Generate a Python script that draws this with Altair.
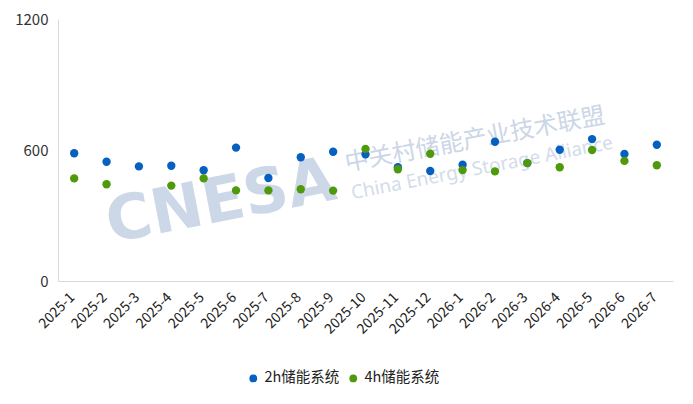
import altair as alt
import pandas as pd

months = ["2025-1", "2025-2", "2025-3", "2025-4", "2025-5", "2025-6", "2025-7",
          "2025-8", "2025-9", "2025-10", "2025-11", "2025-12", "2026-1", "2026-2",
          "2026-3", "2026-4", "2026-5", "2026-6", "2026-7"]
series_2h = [585, 546, 525, 528, 507, 611, 472, 567, 592, 580, 521, 504, 533, 638,
             540, 601, 650, 582, 624]
series_4h = [470, 443, None, 437, 470, 415, 415, 420, 414, 605, 512, 583, 508, 502,
             540, 521, 600, 550, 530]
series_names = ["2h储能系统", "4h储能系统"]
y_ticks = [0, 600, 1200]

rows = []
for m, v in zip(months, series_2h):
    if v is not None:
        rows.append({"month": m, "value": v, "series": series_names[0]})
for m, v in zip(months, series_4h):
    if v is not None:
        rows.append({"month": m, "value": v, "series": series_names[1]})
df = pd.DataFrame(rows)

FONT = "Noto Sans CJK SC"

points = alt.Chart(df).mark_circle(size=70, opacity=1).encode(
    x=alt.X("month:N", sort=months, scale=alt.Scale(paddingInner=0, paddingOuter=0.5),
            axis=alt.Axis(title=None, labelAngle=-45, ticks=False, domainColor="#d9d9d9",
                          labelFontSize=14, labelColor="#222222", labelFont=FONT,
                          labelPadding=9, labelOffset=-7)),
    y=alt.Y("value:Q", scale=alt.Scale(domain=[0, 1200], nice=False),
            axis=alt.Axis(title=None, values=y_ticks, format="d", grid=False, ticks=False,
                          domainColor="#d9d9d9", labelFontSize=15, labelColor="#333333",
                          labelFont=FONT, labelPadding=10)),
    color=alt.Color("series:N", scale=alt.Scale(domain=series_names,
                                                range=["#0660c0", "#4f9a0c"]),
                    legend=alt.Legend(title=None, orient="none", direction="horizontal",
                                      legendX=188, legendY=352, labelFontSize=14.5,
                                      labelFont=FONT, labelColor="#222222",
                                      symbolType="circle", symbolSize=60,
                                      labelOffset=4, columnPadding=6)),
)

wm1 = alt.Chart(pd.DataFrame({"t": ["CNESA"]})).mark_text(
    font="DejaVu Sans", fontWeight="bold", fontSize=62, color="#ccd7e7", angle=349,
    align="center", baseline="middle"
).encode(x=alt.value(163), y=alt.value(183), text="t:N")

wm2 = alt.Chart(pd.DataFrame({"t": ["中关村储能产业技术联盟"]})).mark_text(
    font=FONT, fontSize=24, color="#cbd6e6", angle=349.5,
    align="center", baseline="middle"
).encode(x=alt.value(417), y=alt.value(121), text="t:N")

wm3 = alt.Chart(pd.DataFrame({"t": ["China Energy Storage Alliance"]})).mark_text(
    font="Noto Sans", fontSize=19, color="#d3dcea", angle=349,
    align="center", baseline="middle"
).encode(x=alt.value(424), y=alt.value(149), text="t:N")

chart = alt.layer(wm1, wm2, wm3, points).properties(
    width=615, height=262,
    autosize=alt.AutoSizeParams(type="none"),
    padding={"left": 50, "top": 11, "right": 12, "bottom": 115},
).configure(background="white").configure_view(strokeWidth=0, stroke="transparent")

chart.save("out.html", embed_options={"renderer": "svg", "actions": False})
